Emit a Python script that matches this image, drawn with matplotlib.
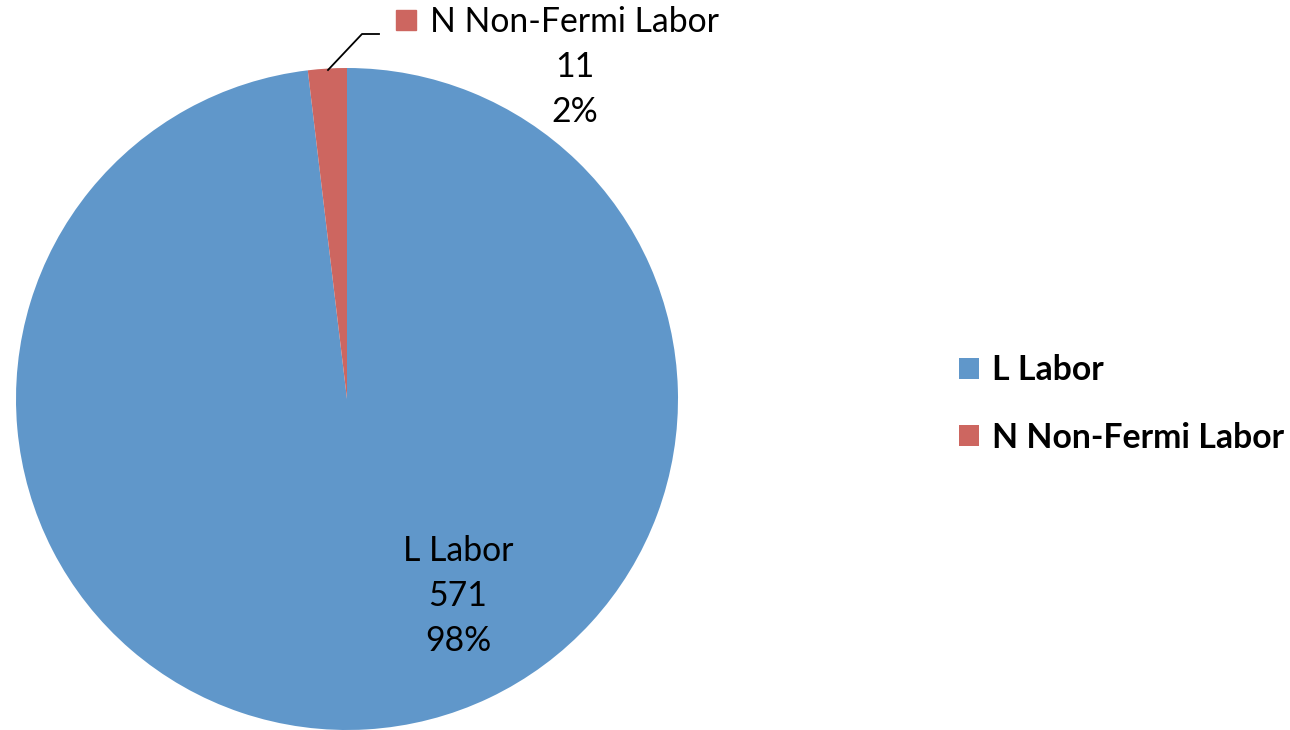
import matplotlib
matplotlib.use("Agg")
import matplotlib.pyplot as plt

categories = ["L Labor", "N Non-Fermi Labor"]
values = [571, 11]
colors = ["#6097CA", "#CD6660"]

plt.rcParams['font.family'] = ['Lato', 'DejaVu Sans']

W, H = 1290, 730
fig = plt.figure(figsize=(W / 100, H / 100), dpi=100)
# pie box: center (347,399) px, radius 331
cx, cy, r = 347, 399, 331
ax = fig.add_axes([(cx - r) / W, (H - cy - r) / H, 2 * r / W, 2 * r / H])
wedges, _ = ax.pie(values, colors=colors, startangle=90, counterclock=False,
                   radius=1.0, wedgeprops=dict(linewidth=0))
ax.set_xlim(-1, 1)
ax.set_ylim(-1, 1)
ax.set_aspect('equal')
ax.axis('off')

total = sum(values)
fs = 24.3

def px(x, y):
    return ((x - cx) / r, (cy - y) / r)

# label for L Labor inside
lx, ly = px(458, 596)
ax.text(lx, ly, f"{categories[0]}\n{values[0]}\n{round(values[0] / total * 100)}%",
        ha='center', va='center', fontsize=fs, linespacing=1.5, color='black')

# label for N outside with key square
nx, ny = px(575, 67)
ax.text(nx, ny, f"{categories[1]}\n{values[1]}\n{round(values[1] / total * 100)}%",
        ha='center', va='center', fontsize=fs, linespacing=1.5, color='black',
        clip_on=False)
sx0, sy0 = px(396, 30)
sx1, sy1 = px(416, 10)
ax.add_patch(plt.Rectangle((sx0, sy0), sx1 - sx0, sy1 - sy0, color=colors[1],
                           clip_on=False, transform=ax.transData))
# leader line
p1 = px(328, 70)
p2 = px(362, 34)
p3 = px(379, 34)
ax.plot([p1[0], p2[0], p3[0]], [p1[1], p2[1], p3[1]], color='black', lw=1.3,
        clip_on=False)

leg = fig.legend(wedges, categories, loc='center left',
                 bbox_to_anchor=(959 / W, 1 - 404 / H), frameon=False,
                 prop=dict(weight='bold', size=fs), handlelength=0.58,
                 handleheight=0.58, handletextpad=0.4, labelspacing=1.05,
                 borderaxespad=0, borderpad=0)

fig.savefig("out.png", dpi=100)
